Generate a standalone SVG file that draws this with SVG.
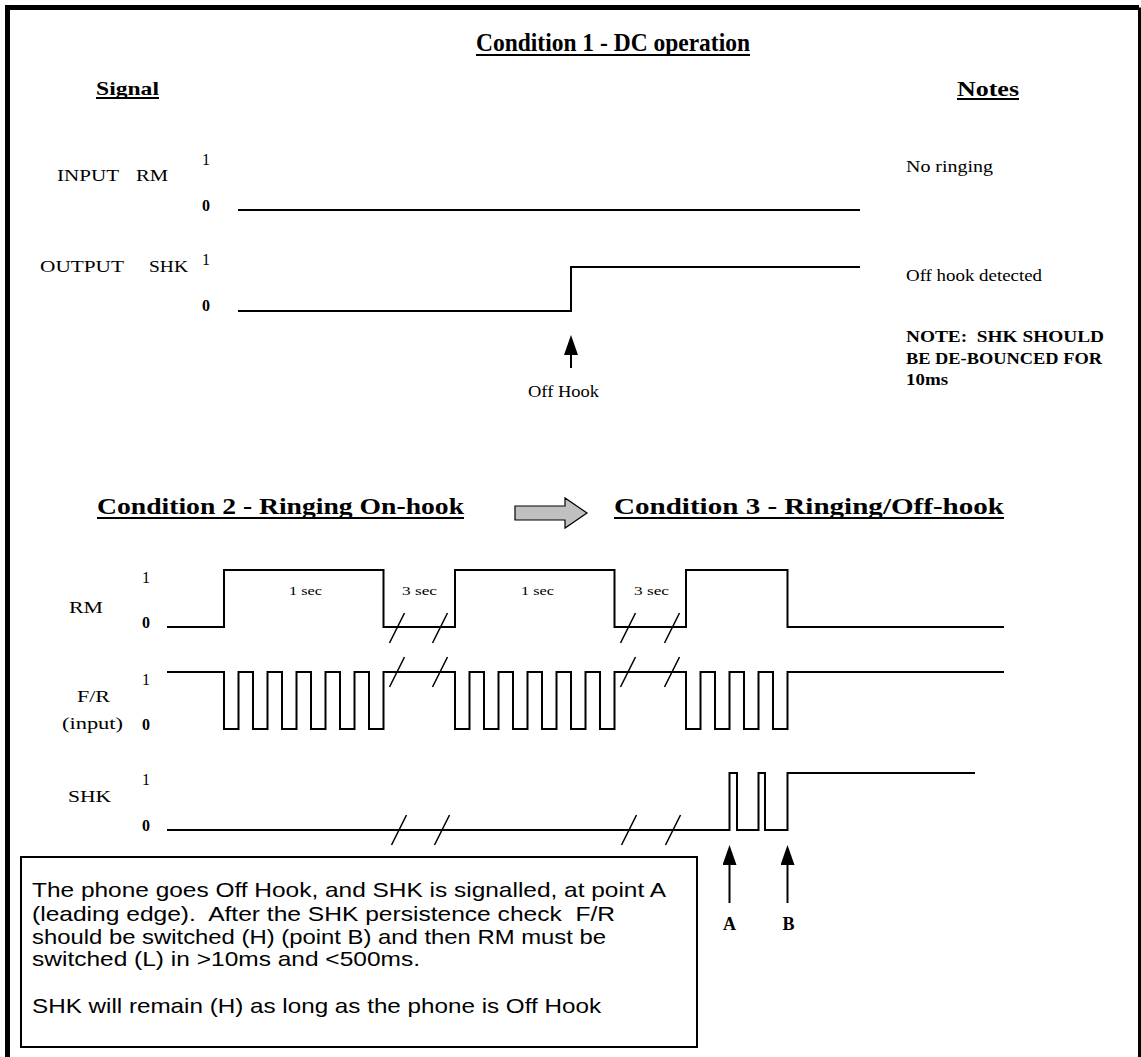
<svg xmlns="http://www.w3.org/2000/svg" width="1141" height="1057" viewBox="0 0 1141 1057">
<style>
.bg{fill:#fff}
.frame{fill:none;stroke:#000;stroke-width:5}
.w{fill:none;stroke:#000;stroke-width:2;stroke-linejoin:miter;stroke-linecap:butt}
.sl{stroke:#000;stroke-width:1.6}
.ul{stroke:#000;stroke-width:2}
.ar{stroke:#000;stroke-width:2}
.tr{font-family:"Liberation Serif","Times New Roman",serif;fill:#000}
.tb{font-family:"Liberation Serif","Times New Roman",serif;font-weight:bold;fill:#000}
.ta{font-family:"Liberation Sans",Arial,sans-serif;fill:#000;font-size:21px}
.lbl{font-size:17px}
.lbl2{font-size:17px}
.d1{font-size:16px}
.d0{font-size:16px;font-weight:bold}
.sec{font-size:13px}
.box{fill:#fff;stroke:#000;stroke-width:2}
.gar{fill:#c0c0c0;stroke:#000;stroke-width:1.2}
</style>
<defs>
<marker id="ah" markerWidth="20" markerHeight="14" refX="0" refY="7" orient="auto" markerUnits="userSpaceOnUse" viewBox="0 0 20 14">
<path d="M0,0 L20,7 L0,14 Z" fill="#000"/>
</marker>
</defs>
<rect class="bg" x="0" y="0" width="1141" height="1057"/>
<path class="frame" d="M7.5,1060 V7.5 H1139"/>
<line x1="1139.5" y1="7.5" x2="1139.5" y2="1057" stroke="#000" stroke-width="3"/>

<g id="headings">
<text class="tb" x="476" y="51" font-size="25" textLength="274" lengthAdjust="spacingAndGlyphs">Condition 1 - DC operation</text>
<line class="ul" x1="476" y1="55" x2="750" y2="55"/>
<text class="tb" x="96" y="95" font-size="19" textLength="63" lengthAdjust="spacingAndGlyphs">Signal</text>
<line class="ul" x1="96" y1="98" x2="159" y2="98"/>
<text class="tb" x="957" y="96" font-size="20" textLength="62" lengthAdjust="spacingAndGlyphs">Notes</text>
<line class="ul" x1="957" y1="99" x2="1019" y2="99"/>
<text class="tb" x="97" y="514" font-size="24" textLength="367" lengthAdjust="spacingAndGlyphs">Condition 2 - Ringing On-hook</text>
<line class="ul" x1="97" y1="518" x2="464" y2="518"/>
<text class="tb" x="614" y="514" font-size="24" textLength="390" lengthAdjust="spacingAndGlyphs">Condition 3 - Ringing/Off-hook</text>
<line class="ul" x1="614" y1="518" x2="1004" y2="518"/>
</g>

<g id="c1-input-rm">
<text class="tr lbl" y="181"><tspan x="57" textLength="62" lengthAdjust="spacingAndGlyphs">INPUT</tspan><tspan x="136" textLength="32" lengthAdjust="spacingAndGlyphs">RM</tspan></text>
<text class="tr d1" x="202" y="165">1</text>
<text class="tr d0" x="202" y="211">0</text>
<path class="w" d="M238,210 H860"/>
<text class="tr lbl" x="906" y="172" textLength="87" lengthAdjust="spacingAndGlyphs">No ringing</text>
</g>

<g id="c1-output-shk">
<text class="tr lbl" y="272"><tspan x="40" textLength="84" lengthAdjust="spacingAndGlyphs">OUTPUT</tspan><tspan x="149" textLength="39" lengthAdjust="spacingAndGlyphs">SHK</tspan></text>
<text class="tr d1" x="202" y="265">1</text>
<text class="tr d0" x="202" y="311">0</text>
<path class="w" d="M238,311 H571 V267 H860"/>
<text class="tr lbl" x="906" y="281" textLength="136" lengthAdjust="spacingAndGlyphs">Off hook detected</text>
<text class="tr lbl" x="528" y="397" textLength="71" lengthAdjust="spacingAndGlyphs">Off Hook</text>
</g>

<g id="c1-note">
<text class="tb" x="906" y="342" font-size="16" textLength="198" lengthAdjust="spacingAndGlyphs" xml:space="preserve">NOTE:  SHK SHOULD</text>
<text class="tb" x="906" y="363.5" font-size="16" textLength="196" lengthAdjust="spacingAndGlyphs">BE DE-BOUNCED FOR</text>
<text class="tb" x="906" y="385" font-size="16" textLength="42" lengthAdjust="spacingAndGlyphs">10ms</text>
</g>

<g id="transition-arrow">
<path class="gar" d="M515,506 H565 V498 L587,513 L565,528 V520 H515 Z"/>
</g>

<g id="c2-rm">
<text class="tr lbl2" x="69" y="613" textLength="34" lengthAdjust="spacingAndGlyphs">RM</text>
<text class="tr d1" x="142" y="583">1</text>
<text class="tr d0" x="142" y="628">0</text>
<path class="w" d="M167,627 H224 V570 H383.5 V627 H455 V570 H614.5 V627 H686 V570 H787.5 V627 H1004"/>
<text class="tr sec" x="289" y="595" textLength="33" lengthAdjust="spacingAndGlyphs">1 sec</text>
<text class="tr sec" x="402" y="595" textLength="35" lengthAdjust="spacingAndGlyphs">3 sec</text>
<text class="tr sec" x="521" y="595" textLength="33" lengthAdjust="spacingAndGlyphs">1 sec</text>
<text class="tr sec" x="634" y="595" textLength="35" lengthAdjust="spacingAndGlyphs">3 sec</text>
</g>

<g id="c2-fr">
<text class="tr lbl2" x="77" y="702" textLength="33" lengthAdjust="spacingAndGlyphs">F/R</text>
<text class="tr lbl2" x="62" y="729" textLength="61" lengthAdjust="spacingAndGlyphs">(input)</text>
<text class="tr d1" x="142" y="685">1</text>
<text class="tr d0" x="142" y="730">0</text>
<path class="w" d="M167,672 H224 V729 H238.5 V672 H253 V729 H267.5 V672 H282 V729 H296.5 V672 H311 V729 H325.5 V672 H340 V729 H354.5 V672 H369 V729 H383.5 V672 H455 V729 H469.5 V672 H484 V729 H498.5 V672 H513 V729 H527.5 V672 H542 V729 H556.5 V672 H571 V729 H585.5 V672 H600 V729 H614.5 V672 H686 V729 H700.5 V672 H715 V729 H729.5 V672 H744 V729 H758.5 V672 H773 V729 H787.5 V672 H1004"/>
</g>

<g id="c2-shk">
<text class="tr lbl2" x="68" y="802" textLength="43" lengthAdjust="spacingAndGlyphs">SHK</text>
<text class="tr d1" x="142" y="785">1</text>
<text class="tr d0" x="142" y="831">0</text>
<path class="w" d="M167,830 H729.5 V773 H737 V830 H758.5 V773 H765 V830 H787.5 V773 H975"/>
</g>

<g id="breaks">
<line class="sl" x1="389.5" y1="643" x2="404.5" y2="613"/>
<line class="sl" x1="432.5" y1="643" x2="447.5" y2="613"/>
<line class="sl" x1="620.5" y1="643" x2="635.5" y2="613"/>
<line class="sl" x1="664.5" y1="643" x2="679.5" y2="613"/>
<line class="sl" x1="389.5" y1="687" x2="404.5" y2="657"/>
<line class="sl" x1="432.5" y1="687" x2="447.5" y2="657"/>
<line class="sl" x1="620.5" y1="687" x2="635.5" y2="657"/>
<line class="sl" x1="664.5" y1="687" x2="679.5" y2="657"/>
<line class="sl" x1="391.5" y1="845" x2="406.5" y2="815"/>
<line class="sl" x1="434.5" y1="845" x2="449.5" y2="815"/>
<line class="sl" x1="621.5" y1="845" x2="636.5" y2="815"/>
<line class="sl" x1="665.5" y1="845" x2="680.5" y2="815"/>
</g>

<g id="connectors">
<line class="ar" x1="571" y1="368" x2="571" y2="355" marker-end="url(#ah)"/>
<line class="ar" x1="729.5" y1="903" x2="729.5" y2="865" marker-end="url(#ah)"/>
<line class="ar" x1="787.5" y1="903" x2="787.5" y2="865" marker-end="url(#ah)"/>
</g>

<g id="point-labels">
<text class="tb" x="729.5" y="930" font-size="18" text-anchor="middle">A</text>
<text class="tb" x="788.5" y="930" font-size="18" text-anchor="middle">B</text>
</g>

<g id="explanation">
<rect class="box" x="21" y="857" width="676" height="190"/>
<text class="ta" x="32" y="897" textLength="634" lengthAdjust="spacingAndGlyphs">The phone goes Off Hook, and SHK is signalled, at point A</text>
<text class="ta" x="32" y="920.5" textLength="583" lengthAdjust="spacingAndGlyphs" xml:space="preserve">(leading edge).  After the SHK persistence check  F/R</text>
<text class="ta" x="32" y="943.5" textLength="574" lengthAdjust="spacingAndGlyphs">should be switched (H) (point B) and then RM must be</text>
<text class="ta" x="32" y="966" textLength="388" lengthAdjust="spacingAndGlyphs">switched (L) in &gt;10ms and &lt;500ms.</text>
<text class="ta" x="32" y="1012.5" textLength="569" lengthAdjust="spacingAndGlyphs">SHK will remain (H) as long as the phone is Off Hook</text>
</g>
</svg>
